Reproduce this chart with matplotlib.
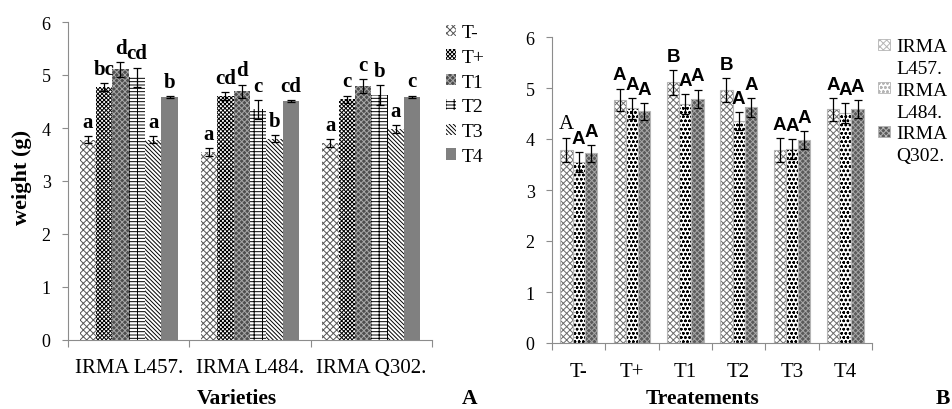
import matplotlib
matplotlib.use('Agg')
import matplotlib.pyplot as plt
from matplotlib.patches import Patch
import numpy as np

# ---- data ----
varieties = ['IRMA L457.', 'IRMA L484.', 'IRMA Q302.']
treatments = ['T-', 'T+', 'T1', 'T2', 'T3', 'T4']

# mean weight (g) per variety, in treatment order
l457 = [3.78, 4.77, 5.11, 4.96, 3.78, 4.58]
l484 = [3.55, 4.60, 4.69, 4.35, 3.80, 4.51]
q302 = [3.72, 4.54, 4.79, 4.62, 3.98, 4.59]

# error bars, panel A
err_a_l457 = [0.07, 0.08, 0.14, 0.18, 0.06, 0.02]
err_a_l484 = [0.07, 0.07, 0.13, 0.18, 0.06, 0.02]
err_a_q302 = [0.07, 0.07, 0.13, 0.19, 0.07, 0.02]

# error bars, panel B
err_b_l457 = [0.24, 0.22, 0.24, 0.24, 0.24, 0.23]
err_b_l484 = [0.20, 0.20, 0.20, 0.18, 0.20, 0.20]
err_b_q302 = [0.17, 0.17, 0.18, 0.18, 0.18, 0.18]

# significance letters
let_a_l457 = ['a', 'bc', 'd', 'cd', 'a', 'b']
let_a_l484 = ['a', 'cd', 'd', 'c', 'b', 'cd']
let_a_q302 = ['a', 'c', 'c', 'b', 'a', 'c']
let_b_l457 = ['A', 'A', 'B', 'B', 'A', 'A']
let_b_l484 = ['A', 'A', 'A', 'A', 'A', 'A']
let_b_q302 = ['A', 'A', 'A', 'A', 'A', 'A']

plt.rcParams['font.family'] = 'Liberation Serif'
plt.rcParams['hatch.linewidth'] = 0.7

fig = plt.figure(figsize=(9.52, 4.10), dpi=100)

means = np.array([l457, l484, q302])          # variety x treatment
err_a = np.array([err_a_l457, err_a_l484, err_a_q302])
err_b = np.array([err_b_l457, err_b_l484, err_b_q302])
let_a = [let_a_l457, let_a_l484, let_a_q302]
let_b = [let_b_l457, let_b_l484, let_b_q302]

# (facecolor, hatchcolor, hatch)
style_t = [('white', '#555555', 'xxxxx'),
           ('white', 'black', 'xxxxxxxx'),
           ('#4e4e4e', '#a8a8a8', 'xxxxxx'),
           ('white', 'black', '-----||'),
           ('white', 'black', '\\' * 8),
           ('#808080', '#808080', '')]
style_v = [('white', '#6a6a6a', 'xxxxx'),
           ('white', 'black', 'oooo'),
           ('#5a5a5a', '#a8a8a8', 'xxxxxx')]

GREY = '#8c8c8c'


def style_axes(ax):
    for s in ['top', 'right']:
        ax.spines[s].set_visible(False)
    for s in ['left', 'bottom']:
        ax.spines[s].set_color(GREY)
    ax.set_ylim(0, 6)
    ax.set_yticks(range(7))
    ax.tick_params(axis='y', direction='out', length=4.5, color=GREY,
                   labelsize=13, pad=8)
    ax.tick_params(axis='x', which='major', direction='out', length=5,
                   color=GREY, labelbottom=False)
    ax.tick_params(axis='x', which='minor', length=0, labelsize=15, pad=13)


# ---- panel A: by variety ----
ax1 = fig.add_axes([68 / 952, 69 / 410, 364 / 952, 318 / 410])
w = 0.135
x = np.arange(len(varieties)) + 0.5
handles_a = []
for j, t in enumerate(treatments):
    fc, hc, h = style_t[j]
    xs = x + (j - 2.5) * w
    ax1.bar(xs, means[:, j], w, color=fc, edgecolor=hc, hatch=h, linewidth=0)
    ax1.errorbar(xs, means[:, j], yerr=err_a[:, j], fmt='none',
                 ecolor='black', elinewidth=0.9, capsize=3, capthick=0.9)
    for i in range(len(varieties)):
        ax1.text(xs[i], means[i, j] + err_a[i, j] + 0.08, let_a[i][j],
                 ha='center', va='bottom', fontsize=15, fontweight='bold')
    handles_a.append(Patch(facecolor=fc, edgecolor=hc, hatch=h, linewidth=0))
ax1.set_xlim(0, 3)
ax1.set_xticks(range(4))
ax1.set_xticks(x, minor=True)
ax1.set_xticklabels(varieties, minor=True)
style_axes(ax1)
ax1.legend(handles_a, treatments, loc='upper left',
           bbox_to_anchor=(446 / 952, 1 - 25 / 410),
           bbox_transform=fig.transFigure, frameon=False, fontsize=14,
           handlelength=0.5, handleheight=0.5, handletextpad=0.3,
           labelspacing=0.4, borderaxespad=0, borderpad=0)

# ---- panel B: by treatment ----
ax2 = fig.add_axes([552 / 952, 66 / 410, 320 / 952, 306 / 410])
w = 0.23
x = np.arange(len(treatments)) + 0.5
handles_b = []
for i, v in enumerate(varieties):
    fc, hc, h = style_v[i]
    xs = x + (i - 1) * w
    ax2.bar(xs, means[i], w, color=fc, edgecolor=hc, hatch=h, linewidth=0)
    ax2.bar(xs, means[i], w, fill=False, edgecolor='#b5b5b5', linewidth=0.8)
    ax2.errorbar(xs, means[i], yerr=err_b[i], fmt='none',
                 ecolor='black', elinewidth=0.9, capsize=3, capthick=0.9)
    for j in range(len(treatments)):
        if i == 0 and j == 0:
            fam, fw, fs = 'Liberation Serif', 'normal', 15
        else:
            fam, fw, fs = 'Liberation Sans', 'bold', 13.5
        ax2.text(xs[j], means[i, j] + err_b[i, j] + 0.1, let_b[i][j],
                 ha='center', va='bottom', fontsize=fs, fontweight=fw,
                 family=fam)
    handles_b.append(Patch(facecolor=fc, edgecolor='#b5b5b5', hatch=h,
                           linewidth=0.6))
    handles_b.append(Patch(facecolor='none', edgecolor='none'))
ax2.set_xlim(0, 6)
ax2.set_xticks(range(7))
ax2.set_xticks(x, minor=True)
ax2.set_xticklabels(treatments, minor=True)
style_axes(ax2)
ax2.tick_params(axis='x', which='minor', pad=14)
labels_b = []
for v in varieties:
    labels_b += v.split(' ')
ax2.legend(handles_b, labels_b, loc='upper left',
           bbox_to_anchor=(878 / 952, 1 - 39 / 410),
           bbox_transform=fig.transFigure, frameon=False, fontsize=14,
           handlelength=0.6, handleheight=0.5, handletextpad=0.35,
           labelspacing=0.25, borderaxespad=0, borderpad=0)

# ---- axis titles and panel letters ----
fig.text(22 / 952, 1 - 177 / 410, 'weight (g)', rotation=90, ha='center',
         va='center', fontsize=16, fontweight='bold')
fig.text(237 / 952, 1 - 399 / 410, 'Varieties', ha='center', va='center',
         fontsize=15.5, fontweight='bold')
fig.text(703 / 952, 1 - 399 / 410, 'Treatements', ha='center', va='center',
         fontsize=15.5, fontweight='bold')
fig.text(470 / 952, 1 - 399 / 410, 'A', ha='center', va='center',
         fontsize=15.5, fontweight='bold')
fig.text(943 / 952, 1 - 399 / 410, 'B', ha='center', va='center',
         fontsize=15.5, fontweight='bold')

fig.savefig('out.png', dpi=100)
